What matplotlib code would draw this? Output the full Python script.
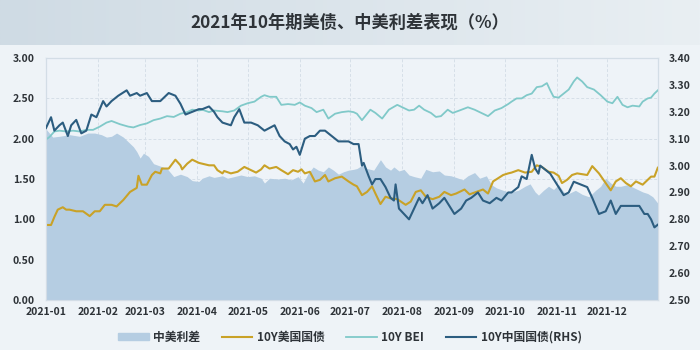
import numpy as np
import pandas as pd
import matplotlib
matplotlib.use("Agg")
import matplotlib.pyplot as plt
import matplotlib.dates as mdates
from matplotlib.patches import Patch
from matplotlib.lines import Line2D
from matplotlib.colors import LinearSegmentedColormap

plt.rcParams['font.family'] = ['Noto Sans CJK SC', 'DejaVu Sans']

# 中美利差 (左轴)
spread_dates = ['01-01', '01-05', '01-09', '01-15', '01-21', '01-26', '01-30', '02-03', '02-06', '02-09',
                '02-12', '02-16', '02-19', '02-22', '02-24', '02-26', '02-28', '03-03', '03-06', '03-10',
                '03-14', '03-18', '03-22', '03-26', '03-29', '04-02', '04-04', '04-08', '04-11', '04-16',
                '04-19', '04-23', '04-27', '05-01', '05-05', '05-09', '05-11', '05-14', '05-19', '05-23',
                '05-27', '05-31', '06-03', '06-06', '06-09', '06-12', '06-15', '06-18', '06-21', '06-24',
                '06-27', '06-30', '07-03', '07-05', '07-08', '07-11', '07-15', '07-19', '07-22', '07-25',
                '07-27', '07-30', '08-02', '08-05', '08-08', '08-12', '08-15', '08-19', '08-23', '08-26',
                '08-30', '09-02', '09-06', '09-09', '09-13', '09-16', '09-20', '09-23', '09-26', '09-30',
                '10-03', '10-05', '10-09', '10-13', '10-16', '10-19', '10-21', '10-24', '10-27', '10-30',
                '11-02', '11-05', '11-08', '11-12', '11-16', '11-20', '11-24', '11-27', '11-30', '12-03',
                '12-06', '12-09', '12-13', '12-17', '12-22', '12-25', '12-28', '12-31']
spread = [2.12, 2.02, 2.03, 2.05, 2.03, 2.07, 2.07, 2.05, 2.02, 2.03,
          2.07, 2.02, 1.96, 1.90, 1.84, 1.76, 1.82, 1.78, 1.69, 1.66,
          1.63, 1.53, 1.56, 1.53, 1.48, 1.47, 1.51, 1.54, 1.52, 1.54,
          1.51, 1.53, 1.55, 1.53, 1.54, 1.51, 1.45, 1.51, 1.50, 1.51,
          1.49, 1.53, 1.45, 1.57, 1.65, 1.61, 1.59, 1.65, 1.61, 1.56,
          1.59, 1.61, 1.62, 1.63, 1.67, 1.63, 1.61, 1.74, 1.65, 1.61,
          1.65, 1.60, 1.62, 1.55, 1.53, 1.51, 1.62, 1.59, 1.60, 1.55,
          1.54, 1.52, 1.49, 1.54, 1.58, 1.51, 1.54, 1.43, 1.39, 1.36,
          1.34, 1.34, 1.36, 1.41, 1.44, 1.34, 1.30, 1.36, 1.41, 1.37,
          1.43, 1.34, 1.32, 1.36, 1.31, 1.28, 1.36, 1.41, 1.51, 1.45,
          1.41, 1.41, 1.43, 1.39, 1.34, 1.32, 1.28, 1.20]

# 10Y美国国债 (左轴)
us_dates = ['01-01', '01-04', '01-06', '01-08', '01-11', '01-13', '01-15', '01-19', '01-23', '01-27',
            '01-30', '02-02', '02-05', '02-09', '02-12', '02-16', '02-20', '02-24', '02-25', '02-27',
            '03-02', '03-05', '03-07', '03-10', '03-11', '03-15', '03-19', '03-22', '03-23', '03-26',
            '03-29', '04-02', '04-04', '04-08', '04-11', '04-13', '04-16', '04-17', '04-21', '04-25',
            '04-29', '05-02', '05-06', '05-09', '05-11', '05-14', '05-18', '05-21', '05-25', '05-28',
            '05-31', '06-02', '06-04', '06-07', '06-10', '06-13', '06-16', '06-18', '06-22', '06-26',
            '06-30', '07-03', '07-05', '07-08', '07-11', '07-14', '07-16', '07-19', '07-22', '07-25',
            '07-29', '08-03', '08-06', '08-09', '08-12', '08-15', '08-19', '08-23', '08-26', '08-30',
            '09-02', '09-07', '09-10', '09-14', '09-18', '09-21', '09-24', '09-27', '09-30', '10-03',
            '10-05', '10-09', '10-13', '10-17', '10-20', '10-23', '10-27', '10-30', '11-02', '11-04',
            '11-07', '11-10', '11-13', '11-19', '11-22', '11-26', '11-30', '12-03', '12-06', '12-09',
            '12-12', '12-15', '12-18', '12-22', '12-25', '12-27', '12-29', '12-31']
us10y = [0.93, 0.93, 1.03, 1.12, 1.15, 1.12, 1.12, 1.10, 1.10, 1.04,
         1.10, 1.10, 1.18, 1.18, 1.16, 1.24, 1.34, 1.39, 1.54, 1.43,
         1.43, 1.55, 1.59, 1.57, 1.63, 1.63, 1.74, 1.67, 1.62, 1.69,
         1.74, 1.70, 1.69, 1.67, 1.67, 1.61, 1.57, 1.60, 1.57, 1.59,
         1.65, 1.62, 1.58, 1.62, 1.67, 1.63, 1.65, 1.61, 1.56, 1.61,
         1.59, 1.62, 1.57, 1.59, 1.47, 1.49, 1.55, 1.47, 1.51, 1.53,
         1.47, 1.43, 1.41, 1.30, 1.34, 1.41, 1.32, 1.19, 1.28, 1.26,
         1.25, 1.18, 1.22, 1.34, 1.36, 1.28, 1.25, 1.28, 1.34, 1.30,
         1.32, 1.37, 1.31, 1.34, 1.37, 1.32, 1.47, 1.51, 1.55, 1.57,
         1.58, 1.61, 1.58, 1.59, 1.67, 1.65, 1.59, 1.58, 1.54, 1.45,
         1.49, 1.55, 1.57, 1.55, 1.66, 1.57, 1.45, 1.36, 1.47, 1.51,
         1.45, 1.41, 1.47, 1.43, 1.49, 1.53, 1.53, 1.64]

# 10Y BEI (左轴)
bei_dates = ['01-01', '01-03', '01-06', '01-09', '01-13', '01-17', '01-21', '01-25', '01-29', '02-02',
             '02-06', '02-09', '02-14', '02-19', '02-22', '02-26', '03-02', '03-06', '03-10', '03-14',
             '03-18', '03-22', '03-26', '03-29', '04-02', '04-04', '04-08', '04-11', '04-16', '04-19',
             '04-23', '04-27', '05-01', '05-05', '05-09', '05-11', '05-14', '05-18', '05-21', '05-25',
             '05-29', '06-01', '06-04', '06-08', '06-11', '06-15', '06-18', '06-22', '06-26', '06-30',
             '07-03', '07-05', '07-08', '07-13', '07-16', '07-20', '07-24', '07-29', '08-02', '08-05',
             '08-08', '08-11', '08-14', '08-18', '08-21', '08-24', '08-28', '08-31', '09-04', '09-09',
             '09-13', '09-17', '09-21', '09-25', '09-29', '10-03', '10-05', '10-08', '10-11', '10-14',
             '10-17', '10-20', '10-23', '10-26', '10-28', '10-30', '11-02', '11-05', '11-08', '11-11',
             '11-13', '11-16', '11-19', '11-23', '11-27', '12-01', '12-04', '12-07', '12-10', '12-13',
             '12-16', '12-20', '12-22', '12-25', '12-27', '12-29', '12-31']
bei = [1.99, 2.02, 2.09, 2.10, 2.09, 2.10, 2.09, 2.11, 2.11, 2.15,
       2.20, 2.22, 2.18, 2.15, 2.14, 2.17, 2.19, 2.23, 2.25, 2.28,
       2.27, 2.31, 2.33, 2.36, 2.35, 2.36, 2.33, 2.35, 2.34, 2.33,
       2.35, 2.41, 2.44, 2.46, 2.52, 2.54, 2.52, 2.52, 2.42, 2.43,
       2.42, 2.45, 2.41, 2.38, 2.33, 2.36, 2.25, 2.31, 2.33, 2.34,
       2.33, 2.31, 2.23, 2.36, 2.32, 2.25, 2.36, 2.42, 2.38, 2.35,
       2.36, 2.41, 2.36, 2.32, 2.27, 2.28, 2.36, 2.32, 2.35, 2.39,
       2.36, 2.32, 2.28, 2.35, 2.38, 2.43, 2.46, 2.50, 2.50, 2.54,
       2.56, 2.64, 2.65, 2.69, 2.60, 2.52, 2.51, 2.56, 2.61, 2.71,
       2.76, 2.71, 2.64, 2.61, 2.54, 2.46, 2.44, 2.52, 2.42, 2.39,
       2.41, 2.40, 2.46, 2.50, 2.51, 2.56, 2.60]

# 10Y中国国债 (右轴)
cn_dates = ['01-01', '01-04', '01-06', '01-09', '01-11', '01-14', '01-16', '01-19', '01-22', '01-25',
            '01-28', '01-31', '02-04', '02-06', '02-09', '02-13', '02-18', '02-20', '02-24', '02-26',
            '03-02', '03-05', '03-10', '03-15', '03-19', '03-22', '03-25', '03-29', '04-02', '04-04',
            '04-08', '04-11', '04-13', '04-16', '04-21', '04-23', '04-26', '04-29', '05-03', '05-07',
            '05-11', '05-17', '05-20', '05-23', '05-26', '05-28', '05-30', '06-01', '06-04', '06-07',
            '06-10', '06-13', '06-16', '06-20', '06-24', '06-30', '07-03', '07-05', '07-06', '07-08',
            '07-09', '07-12', '07-14', '07-16', '07-19', '07-22', '07-25', '07-27', '07-28', '07-30',
            '08-02', '08-05', '08-08', '08-11', '08-13', '08-16', '08-19', '08-23', '08-26', '08-29',
            '09-01', '09-05', '09-08', '09-11', '09-15', '09-18', '09-22', '09-26', '09-29', '10-03',
            '10-05', '10-09', '10-11', '10-14', '10-17', '10-19', '10-21', '10-22', '10-24', '10-28',
            '11-02', '11-05', '11-08', '11-11', '11-15', '11-19', '11-22', '11-26', '11-30', '12-03',
            '12-06', '12-09', '12-13', '12-16', '12-20', '12-23', '12-25', '12-27', '12-29', '12-31']
cn10y = [3.14, 3.18, 3.13, 3.15, 3.16, 3.11, 3.15, 3.17, 3.12, 3.13,
         3.19, 3.18, 3.24, 3.22, 3.24, 3.26, 3.28, 3.26, 3.27, 3.26,
         3.27, 3.24, 3.24, 3.27, 3.26, 3.23, 3.19, 3.20, 3.21, 3.21,
         3.22, 3.20, 3.18, 3.16, 3.15, 3.18, 3.21, 3.16, 3.16, 3.15,
         3.13, 3.15, 3.11, 3.09, 3.08, 3.06, 3.07, 3.04, 3.10, 3.11,
         3.11, 3.13, 3.13, 3.11, 3.09, 3.09, 3.08, 3.08, 3.08, 3.00,
         3.01, 2.96, 2.93, 2.95, 2.95, 2.92, 2.88, 2.87, 2.93, 2.84,
         2.82, 2.80, 2.84, 2.88, 2.86, 2.89, 2.84, 2.86, 2.88, 2.85,
         2.82, 2.84, 2.87, 2.88, 2.90, 2.87, 2.86, 2.88, 2.87, 2.90,
         2.90, 2.92, 2.96, 2.95, 3.04, 2.99, 2.97, 3.00, 2.99, 2.97,
         2.92, 2.89, 2.90, 2.94, 2.93, 2.92, 2.88, 2.82, 2.83, 2.87,
         2.82, 2.85, 2.85, 2.85, 2.85, 2.82, 2.82, 2.80, 2.77, 2.78]


def to_dates(md):
    return pd.to_datetime(['2021-' + d for d in md])


c_area = '#b5cde2'
c_us = '#c9a227'
c_bei = '#80c9c9'
c_cn = '#2c5d80'
bg = '#eef3f7'
txt = '#2e3338'

fig = plt.figure(figsize=(7, 3.5), dpi=100, facecolor=bg)

# 标题栏, 浅色渐变
band = fig.add_axes([0, 0.87, 1, 0.13])
grad = np.linspace(0, 1, 256).reshape(1, -1)
cmap = LinearSegmentedColormap.from_list('band', ['#cfdbe4', '#e9eff3'])
band.imshow(grad, aspect='auto', cmap=cmap, extent=[0, 1, 0, 1])
band.set_axis_off()
band.text(0.5, 0.5, '2021年10年期美债、中美利差表现（%）', ha='center', va='center',
          fontsize=12.4, fontweight='bold', color=txt, transform=band.transAxes)

ax = fig.add_axes([0.0657, 0.143, 0.874, 0.691])
ax.set_facecolor('#eef3f8')
ax.fill_between(to_dates(spread_dates), spread, 0, color=c_area, linewidth=0, zorder=1)
ax.plot(to_dates(us_dates), us10y, color=c_us, lw=1.5, zorder=3)
ax.plot(to_dates(bei_dates), bei, color=c_bei, lw=1.3, zorder=3)

ax.set_ylim(0, 3.0)
ax.set_yticks(np.arange(0, 3.01, 0.5))
ax.yaxis.set_major_formatter(plt.FormatStrFormatter('%.2f'))
ax.set_xlim(pd.Timestamp('2021-01-01'), pd.Timestamp('2021-12-31'))
ax.xaxis.set_major_locator(mdates.MonthLocator())
ax.xaxis.set_major_formatter(mdates.DateFormatter('%Y-%m'))
ax.grid(True, color='#d6dfe8', lw=0.7, ls=(0, (3, 2)), zorder=0)
ax.set_axisbelow(True)

ax2 = ax.twinx()
ax2.plot(to_dates(cn_dates), cn10y, color=c_cn, lw=1.5, zorder=4)
ax2.set_ylim(2.5, 3.4)
ax2.set_yticks(np.arange(2.5, 3.41, 0.1))
ax2.yaxis.set_major_formatter(plt.FormatStrFormatter('%.2f'))

for a in (ax, ax2):
    for s in a.spines.values():
        s.set_color('#d3dde6')
        s.set_linewidth(0.8)
    a.tick_params(length=0, labelsize=7.5, colors=txt)
    for lab in a.get_xticklabels() + a.get_yticklabels():
        lab.set_fontweight('bold')
ax.tick_params(axis='x', pad=5)
ax.tick_params(axis='y', pad=8)
ax2.tick_params(axis='y', pad=8)

handles = [Patch(color=c_area, label='中美利差'),
           Line2D([], [], color=c_us, lw=1.5, label='10Y美国国债'),
           Line2D([], [], color=c_bei, lw=1.3, label='10Y BEI'),
           Line2D([], [], color=c_cn, lw=1.5, label='10Y中国国债(RHS)')]
leg = fig.legend(handles=handles, loc='center', bbox_to_anchor=(0.5, 0.037), ncol=4,
                 frameon=False, fontsize=8.5, handlelength=2.6, handleheight=0.6,
                 columnspacing=1.8, handletextpad=0.4)
for t in leg.get_texts():
    t.set_fontweight('bold')
    t.set_color(txt)

fig.savefig('out.png', dpi=100, facecolor=bg)
